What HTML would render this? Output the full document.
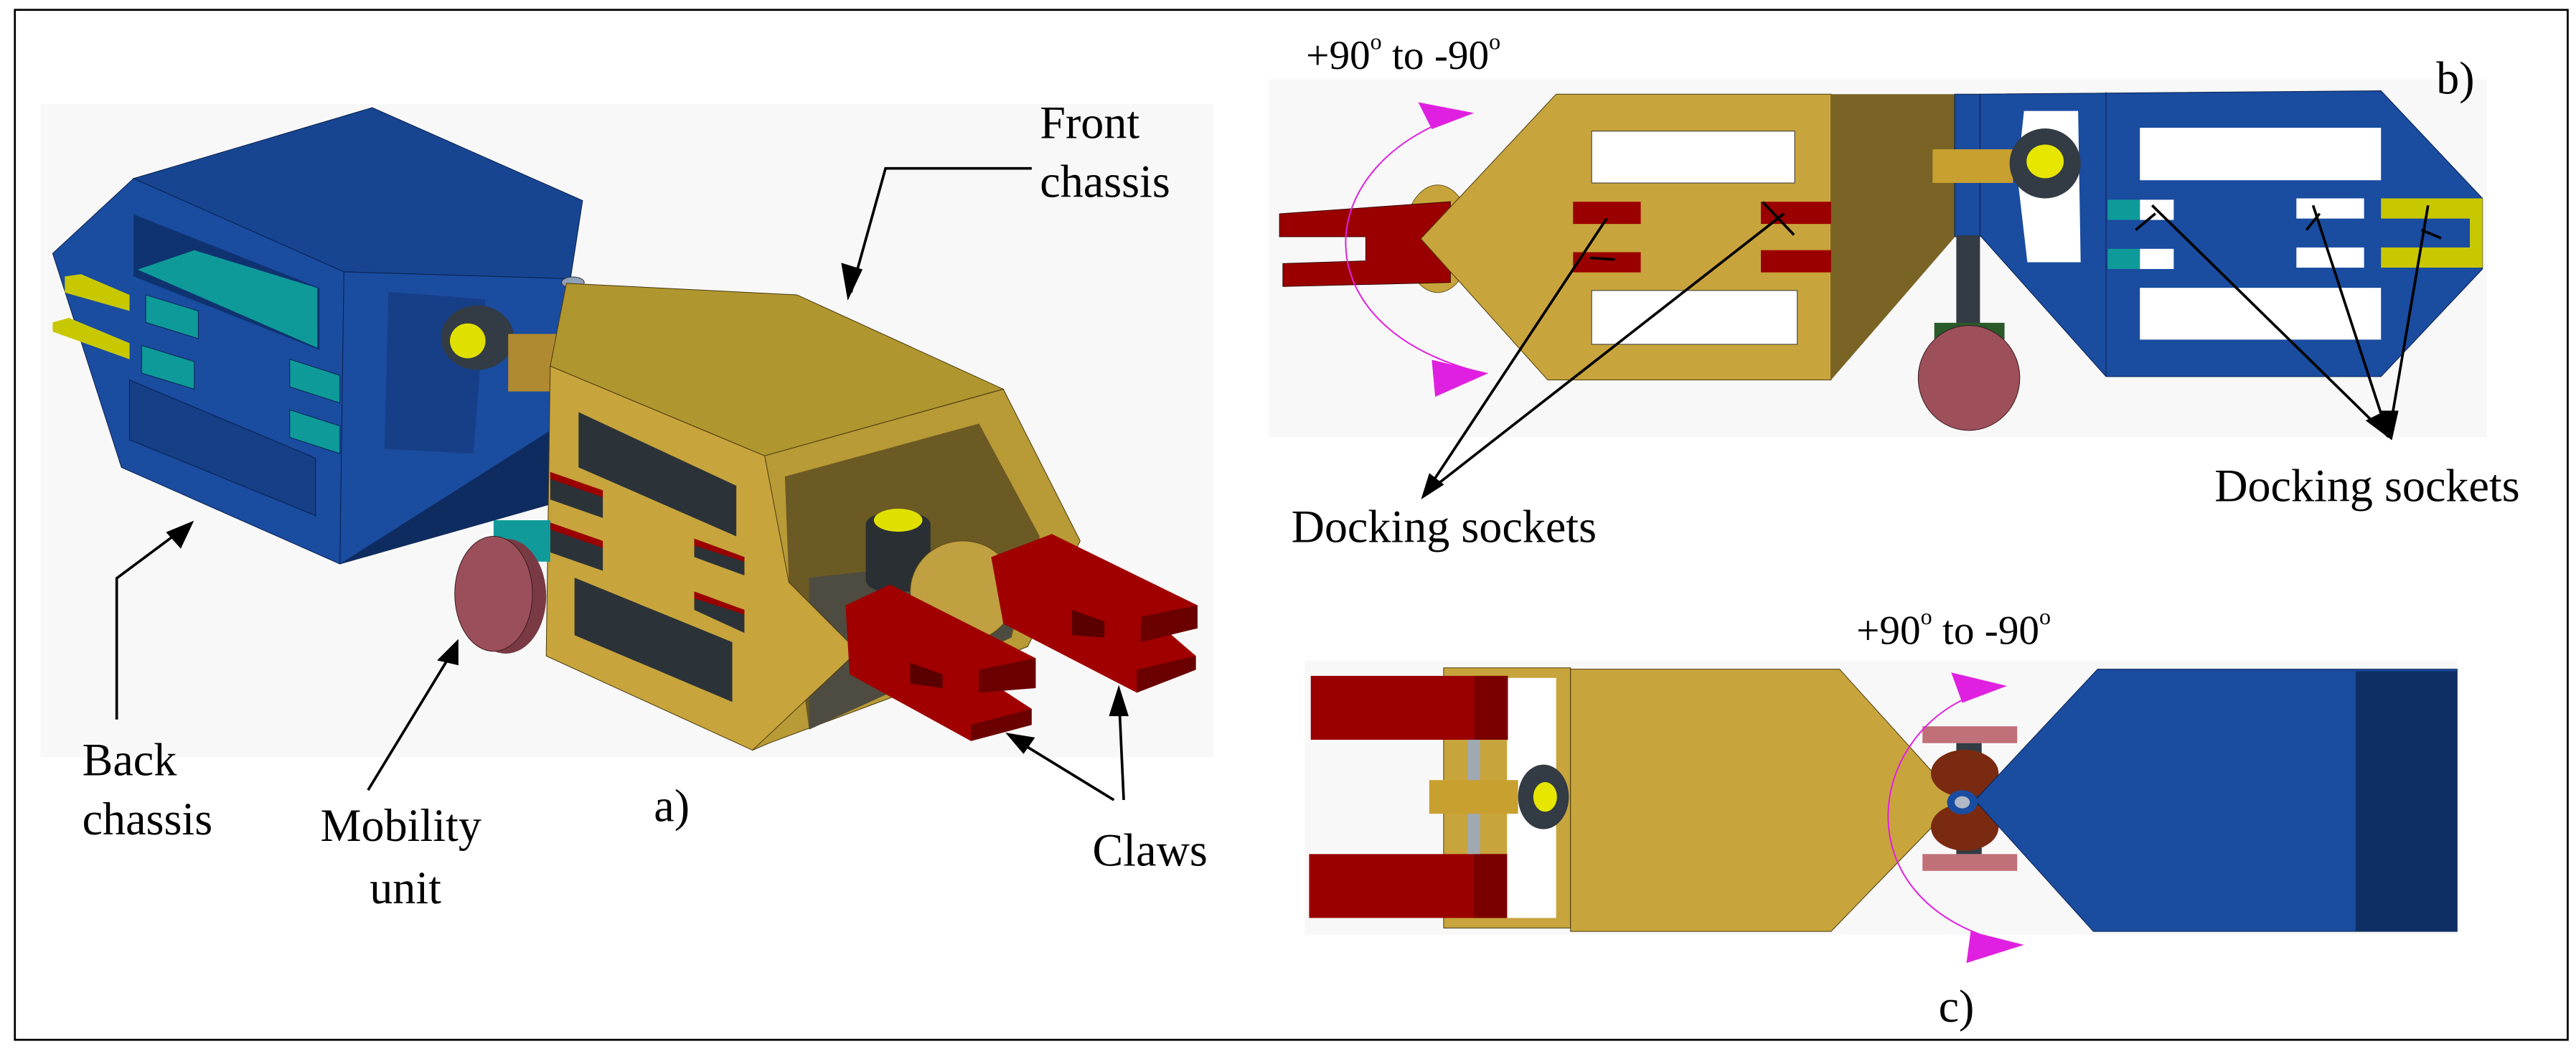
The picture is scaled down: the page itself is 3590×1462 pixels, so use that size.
<!DOCTYPE html>
<html><head><meta charset="utf-8"><style>
html,body{margin:0;padding:0;background:#fff}
svg{display:block}
svg text{font-family:"Liberation Serif","DejaVu Serif",serif;fill:#000}
</style></head><body>
<svg width="3590" height="1462" viewBox="0 0 1568 638.6" xmlns="http://www.w3.org/2000/svg">
<rect x="0" y="0" width="1568" height="638.6" fill="#fff"/>
<rect x="9" y="6" width="1554" height="627" fill="none" stroke="#000" stroke-width="1.2"/>

<!-- Panel a (zoom1 coords) -->
<g transform="matrix(0.4925,0,0,0.28,0,43.7)">
<rect x="50" y="70" width="1450" height="1420" fill="#f8f8f8"/>
<polygon points="165,232 460,78 720,280 705,450 425,435" fill="#174591" stroke="#0a2250" stroke-width="1" vector-effect="non-scaling-stroke"/>
<polygon points="65,395 165,232 425,435 420,1070 150,860" fill="#1a4ca0" stroke="#0a2250" stroke-width="1" vector-effect="non-scaling-stroke"/>
<polygon points="425,435 705,450 680,940 420,1070" fill="#1a4ca0" stroke="#0a2250" stroke-width="1" vector-effect="non-scaling-stroke"/>
<polygon points="480,478 600,495 585,830 475,820" fill="#173f88"/>
<polygon points="420,1070 680,780 680,940" fill="#0f2c60"/>
<polygon points="165,310 395,470 395,605 165,445" fill="#0f3370"/>
<polygon points="170,430 240,388 392,470 392,600" fill="#0f9a9a"/>
<polygon points="180,485 245,520 245,580 180,545" fill="#0f9a9a" stroke="#0a2250" vector-effect="non-scaling-stroke"/>
<polygon points="175,595 240,630 240,690 175,655" fill="#0f9a9a" stroke="#0a2250" vector-effect="non-scaling-stroke"/>
<polygon points="358,625 420,660 420,720 358,685" fill="#0f9a9a" stroke="#0a2250" vector-effect="non-scaling-stroke"/>
<polygon points="358,735 420,770 420,830 358,795" fill="#0f9a9a" stroke="#0a2250" vector-effect="non-scaling-stroke"/>
<polygon points="160,670 390,840 390,965 160,800" fill="#163f86" stroke="#0a2250" vector-effect="non-scaling-stroke"/>
<polygon points="80,445 100,440 160,485 160,520 80,480" fill="#c8c800"/>
<polygon points="65,545 85,535 160,590 160,625 65,565" fill="#c8c800"/>
<ellipse cx="590" cy="578" rx="45" ry="70" fill="#333b44"/>
<ellipse cx="578" cy="585" rx="22" ry="38" fill="#e0e000"/>
<rect x="628" y="570" width="62" height="125" fill="#b08a30"/>
<ellipse cx="708" cy="458" rx="14" ry="12" fill="#8fa0b8" stroke="#333" vector-effect="non-scaling-stroke"/>
<polygon points="700,460 985,485 1240,690 945,835 680,640" fill="#b0962f" stroke="#4a3a10" vector-effect="non-scaling-stroke"/>
<polygon points="945,835 1240,690 1335,1020 1270,1250 950,1460 930,1475" fill="#b89a36" stroke="#4a3a10" vector-effect="non-scaling-stroke"/>
<polygon points="970,880 1210,765 1285,1010 1250,1230 1000,1430 975,1110" fill="#6b5a24"/>
<polygon points="1000,1100 1260,1050 1250,1230 1000,1430" fill="#4e4c40"/>
<polygon points="680,640 945,835 975,1110 1060,1260 930,1475 675,1270" fill="#c8a43c" stroke="#4a3a10" vector-effect="non-scaling-stroke"/>
<polygon points="715,740 910,900 910,1010 715,860" fill="#2b3338"/>
<polygon points="680,880 745,920 745,970 680,930" fill="#2b3338"/>
<polygon points="680,870 745,910 745,925 680,885" fill="#9b0000"/>
<polygon points="680,990 745,1030 745,1085 680,1045" fill="#2b3338"/>
<polygon points="680,980 745,1020 745,1035 680,995" fill="#9b0000"/>
<polygon points="858,1015 920,1055 920,1095 858,1055" fill="#2b3338"/>
<polygon points="858,1015 920,1055 920,1065 858,1030" fill="#9b0000"/>
<polygon points="858,1130 920,1170 920,1220 858,1170" fill="#2b3338"/>
<polygon points="858,1130 920,1170 920,1180 858,1145" fill="#9b0000"/>
<polygon points="710,1100 905,1240 905,1370 710,1225" fill="#2b3338"/>
<rect x="610" y="975" width="70" height="90" fill="#109a9a"/>
<ellipse cx="625" cy="1140" rx="50" ry="125" fill="#7a3a44"/>
<ellipse cx="610" cy="1135" rx="48" ry="125" fill="#9b4f5a" stroke="#3a1a20" vector-effect="non-scaling-stroke"/>
<rect x="1070" y="960" width="80" height="170" rx="25" fill="#2a2f33"/>
<ellipse cx="1110" cy="975" rx="30" ry="25" fill="#e0e000"/>
<ellipse cx="1190" cy="1130" rx="65" ry="110" fill="#c0a040" stroke="#5a4a1a" vector-effect="non-scaling-stroke"/>
<polygon points="1045,1160 1100,1115 1280,1275 1280,1340 1240,1345 1275,1385 1275,1420 1200,1455 1050,1310" fill="#a00000"/>
<polygon points="1210,1300 1280,1275 1280,1340 1210,1350" fill="#6a0000"/>
<polygon points="1200,1420 1275,1385 1275,1420 1200,1455" fill="#6a0000"/>
<polygon points="1125,1285 1165,1310 1165,1340 1125,1330" fill="#5a0000"/>
<polygon points="1225,1055 1300,1005 1480,1160 1480,1210 1445,1220 1478,1270 1478,1300 1405,1350 1240,1200" fill="#a00000"/>
<polygon points="1410,1185 1480,1160 1480,1210 1410,1240" fill="#6a0000"/>
<polygon points="1405,1300 1478,1270 1478,1300 1405,1350" fill="#6a0000"/>
<polygon points="1325,1170 1365,1195 1365,1230 1325,1225" fill="#5a0000"/>
</g>

<!-- Panel b & c (zoom2 coords) -->
<g transform="matrix(0.515,0,0,0.4094,764.4,0)">
<rect x="15" y="118" width="1440" height="532" fill="#f8f8f8"/>
<ellipse cx="215" cy="355" rx="40" ry="80" fill="#c8a43c" stroke="#6a5a20" vector-effect="non-scaling-stroke"/>
<polygon points="28,318 230,300 230,420 32,426 32,392 130,388 130,352 28,352" fill="#9b0000" stroke="#3a0000" vector-effect="non-scaling-stroke"/>
<polygon points="355,140 680,140 680,565 345,565 195,355" fill="#c8a43c" stroke="#4a3a10" vector-effect="non-scaling-stroke"/>
<rect x="397" y="195" width="240" height="77" fill="#fff" stroke="#333" vector-effect="non-scaling-stroke"/>
<rect x="397" y="432" width="243" height="80" fill="#fff" stroke="#333" vector-effect="non-scaling-stroke"/>
<rect x="375" y="300" width="80" height="33" fill="#9b0000"/>
<rect x="375" y="375" width="80" height="30" fill="#9b0000"/>
<rect x="597" y="300" width="83" height="33" fill="#9b0000"/>
<rect x="597" y="372" width="83" height="33" fill="#9b0000"/>
<polygon points="680,140 828,140 828,350 680,565" fill="#7a6425"/>
<polygon points="856,140 1330,135 1450,295 1450,400 1330,560 1005,560 856,350" fill="#1a4ca0" stroke="#0a2250" vector-effect="non-scaling-stroke"/>
<line x1="1005" y1="137" x2="1005" y2="560" stroke="#0a2250" stroke-width="1" vector-effect="non-scaling-stroke"/>
<polygon points="908,165 972,165 975,390 912,390 900,260" fill="#fff"/>
<rect x="1045" y="190" width="285" height="78" fill="#fff"/>
<rect x="1045" y="428" width="285" height="77" fill="#fff"/>
<rect x="1045" y="297" width="40" height="30" fill="#fff"/>
<rect x="1007" y="297" width="38" height="30" fill="#0f9a9a"/>
<rect x="1045" y="370" width="40" height="30" fill="#fff"/>
<rect x="1007" y="370" width="38" height="30" fill="#0f9a9a"/>
<rect x="1230" y="295" width="80" height="30" fill="#fff"/>
<rect x="1230" y="368" width="80" height="30" fill="#fff"/>
<polygon points="1330,295 1450,295 1450,398 1330,398 1330,368 1435,368 1435,325 1330,325" fill="#c8c800"/>
<rect x="826" y="140" width="30" height="212" fill="#1a4ca0" stroke="#0a2250" vector-effect="non-scaling-stroke"/>
<rect x="828" y="350" width="28" height="135" fill="#333b44"/>
<rect x="802" y="480" width="83" height="25" fill="#2a5a2a"/>
<ellipse cx="843" cy="562" rx="60" ry="78" fill="#9e505a" stroke="#3a1a20" vector-effect="non-scaling-stroke"/>
<rect x="800" y="222" width="95" height="50" fill="#c8a030"/>
<ellipse cx="933" cy="243" rx="42" ry="52" fill="#333b44"/>
<ellipse cx="933" cy="240" rx="22" ry="25" fill="#e6e600"/>
<path d="M250,168 C60,240 50,490 270,555" fill="none" stroke="#e020e0" stroke-width="2" vector-effect="non-scaling-stroke"/>
<polygon points="258,168 192,152 208,192" fill="#e020e0"/>
<polygon points="275,555 208,535 212,590" fill="#e020e0"/>

<rect x="58" y="983" width="1362" height="407" fill="#f8f8f8"/>
<rect x="222" y="993" width="150" height="387" fill="#c8a43c" stroke="#4a3a10" vector-effect="non-scaling-stroke"/>
<rect x="297" y="1008" width="58" height="357" fill="#fff"/>
<rect x="65" y="1005" width="233" height="95" fill="#9b0000"/>
<rect x="258" y="1005" width="40" height="95" fill="#7a0000"/>
<rect x="63" y="1270" width="234" height="95" fill="#9b0000"/>
<rect x="257" y="1270" width="40" height="95" fill="#7a0000"/>
<rect x="250" y="1100" width="15" height="170" fill="#a0a8b0"/>
<rect x="205" y="1160" width="105" height="50" fill="#c8a030"/>
<ellipse cx="340" cy="1185" rx="30" ry="48" fill="#333b44"/>
<ellipse cx="342" cy="1185" rx="14" ry="22" fill="#e6e600"/>
<polygon points="372,995 690,995 830,1190 680,1385 372,1385" fill="#c8a43c" stroke="#4a3a10" vector-effect="non-scaling-stroke"/>
<rect x="788" y="1080" width="112" height="25" fill="#c07078"/>
<rect x="788" y="1270" width="112" height="25" fill="#c07078"/>
<rect x="828" y="1105" width="30" height="165" fill="#333b44"/>
<ellipse cx="838" cy="1150" rx="40" ry="35" fill="#7a2a10"/>
<ellipse cx="838" cy="1230" rx="40" ry="35" fill="#7a2a10"/>
<polygon points="995,995 1420,995 1420,1385 990,1385 850,1190" fill="#1a4ca0" stroke="#0a2250" vector-effect="non-scaling-stroke"/>
<rect x="1300" y="998" width="120" height="387" fill="#0e2e64"/>
<ellipse cx="835" cy="1193" rx="18" ry="18" fill="#1a4ca0"/>
<ellipse cx="835" cy="1193" rx="9" ry="9" fill="#b0b8c8"/>
<path d="M880,1022 C720,1060 680,1350 900,1405" fill="none" stroke="#e020e0" stroke-width="2" vector-effect="non-scaling-stroke"/>
<polygon points="888,1020 822,1000 835,1045" fill="#e020e0"/>
<polygon points="908,1405 845,1385 840,1432" fill="#e020e0"/>
</g>

<g stroke="#000" stroke-width="1.6" fill="none">
<polyline points="628,102.5 539,102.5 518,178"/>
<polyline points="71,438 71,352 114,320"/>
<line x1="224" y1="481" x2="277" y2="394"/>
<line x1="678" y1="487" x2="616" y2="449"/>
<line x1="684" y1="487" x2="681" y2="422"/>
<line x1="867" y1="301" x2="978" y2="133"/>
<line x1="867" y1="301" x2="1086" y2="130"/>
<line x1="968" y1="157" x2="983" y2="158"/>
<line x1="1073" y1="123" x2="1092" y2="143"/>
<line x1="1454" y1="266" x2="1310" y2="125"/>
<line x1="1454" y1="266" x2="1408" y2="125"/>
<line x1="1454" y1="266" x2="1478" y2="125"/>
<line x1="1300" y1="140" x2="1312" y2="130"/>
<line x1="1404" y1="140" x2="1412" y2="130"/>
<line x1="1474" y1="140" x2="1486" y2="145"/>
</g>
<g fill="#000">
<polygon points="516,183 512,160 525,164"/>
<polygon points="118,317 101,324 110,334"/>
<polygon points="279,389 266,402 279,405"/>
<polygon points="612,446 630,449 623,459"/>
<polygon points="681,417 675,436 687,436"/>
<polygon points="865,304 870,288 879,295"/>
<polygon points="1456,268 1440,256 1452,250"/>
<polygon points="1456,268 1448,250 1460,250"/>
</g>

<g font-size="28" font-family="Liberation Serif, DejaVu Serif, serif">
<text x="633" y="84">Front</text>
<text x="633" y="120">chassis</text>
<text x="50" y="472">Back</text>
<text x="50" y="508">chassis</text>
<text x="195" y="512">Mobility</text>
<text x="225" y="550">unit</text>
<text x="398" y="500">a)</text>
<text x="665" y="527">Claws</text>
<text x="786" y="330">Docking sockets</text>
<text x="1348" y="305">Docking sockets</text>
<text x="1483" y="57">b)</text>
<text x="1180" y="622">c)</text>
<text x="795" y="42" font-size="25">+90<tspan font-size="14" dy="-12">o</tspan><tspan dy="12"> to -90</tspan><tspan font-size="14" dy="-12">o</tspan></text>
<text x="1130" y="392" font-size="25">+90<tspan font-size="14" dy="-12">o</tspan><tspan dy="12"> to -90</tspan><tspan font-size="14" dy="-12">o</tspan></text>
</g>
</svg>
</body></html>
